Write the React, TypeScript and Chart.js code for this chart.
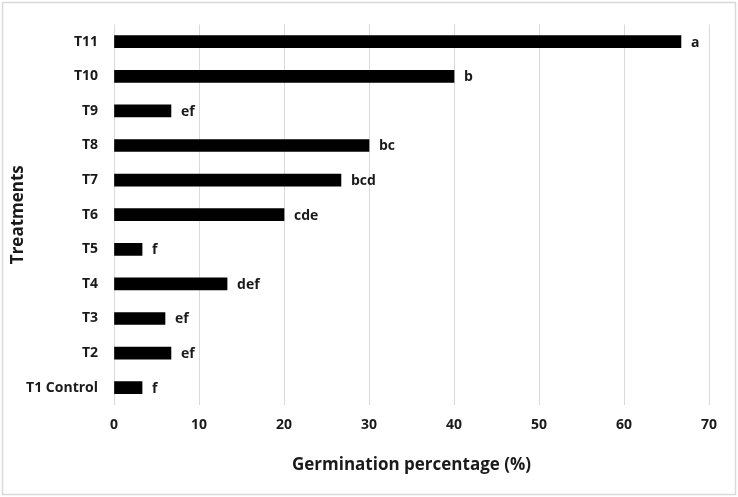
import React, { useEffect, useRef } from "react";
import { Chart, registerables } from "chart.js";

Chart.register(...registerables);

const categories = ["T11", "T10", "T9", "T8", "T7", "T6", "T5", "T4", "T3", "T2", "T1 Control"];
const germination = [66.7, 40, 6.7, 30, 26.7, 20, 3.3, 13.3, 6, 6.7, 3.3];
const letters = ["a", "b", "ef", "bc", "bcd", "cde", "f", "def", "ef", "ef", "f"];
const xTicks = [0, 10, 20, 30, 40, 50, 60, 70];

const FONT = "'Open Sans', Lato, sans-serif";
const TEXT = "#1a1a1a";

const frameAndLabels = {
  id: "frameAndLabels",
  beforeDraw(chart: any) {
    const ctx = chart.ctx;
    ctx.save();
    ctx.fillStyle = "#ffffff";
    ctx.fillRect(0, 0, chart.width, chart.height);
    ctx.strokeStyle = "#d9d9d9";
    ctx.lineWidth = 1.5;
    ctx.strokeRect(2.5, 2.5, chart.width - 5, chart.height - 5);
    ctx.restore();
  },
  afterDatasetsDraw(chart: any) {
    const ctx = chart.ctx;
    const meta = chart.getDatasetMeta(0);
    ctx.save();
    ctx.font = `bold 14px ${FONT}`;
    ctx.fillStyle = TEXT;
    ctx.textAlign = "left";
    ctx.textBaseline = "middle";
    meta.data.forEach((bar: any, i: number) => {
      ctx.fillText(letters[i], bar.x + 10, bar.y + 1);
    });
    ctx.restore();
  },
};

export default function App() {
  const ref = useRef<HTMLCanvasElement>(null);
  useEffect(() => {
    document.body.style.margin = "0";
    const chart = new Chart(ref.current!, {
      type: "bar",
      data: {
        labels: categories,
        datasets: [
          {
            data: germination,
            backgroundColor: "#000000",
            barThickness: 12,
          },
        ],
      },
      plugins: [frameAndLabels],
      options: {
        indexAxis: "y",
        animation: false,
        responsive: false,
        layout: { padding: { left: 0, right: 29, top: 23, bottom: 0 } },
        plugins: { legend: { display: false }, tooltip: { enabled: false } },
        scales: {
          x: {
            min: 0,
            max: 70,
            afterBuildTicks: (s: any) => {
              s.ticks = xTicks.map((v) => ({ value: v }));
            },
            afterFit: (s: any) => {
              s.height = 92;
            },
            grid: { color: "#d9d9d9", drawTicks: false, lineWidth: 1 },
            border: { display: false },
            ticks: {
              padding: 12,
              color: TEXT,
              font: { family: FONT, size: 14, weight: "bold" },
            },
            title: {
              display: true,
              text: "Germination percentage (%)",
              color: TEXT,
              font: { family: FONT, size: 17, weight: "bold" },
              padding: { top: 0, bottom: 22 },
            },
          },
          y: {
            afterFit: (s: any) => {
              s.width = 114;
            },
            grid: { display: false, drawTicks: false },
            border: { display: false },
            ticks: {
              padding: 16,
              color: TEXT,
              font: { family: FONT, size: 14, weight: "bold" },
            },
            title: {
              display: true,
              text: "Treatments",
              color: TEXT,
              font: { family: FONT, size: 17, weight: "bold" },
              padding: { top: 8, bottom: 0 },
            },
          },
        },
      },
    });
    return () => chart.destroy();
  }, []);
  return (
    <div style={{ width: 738, height: 497 }}>
      <canvas ref={ref} width={738} height={497} style={{ display: "block" }} />
    </div>
  );
}
